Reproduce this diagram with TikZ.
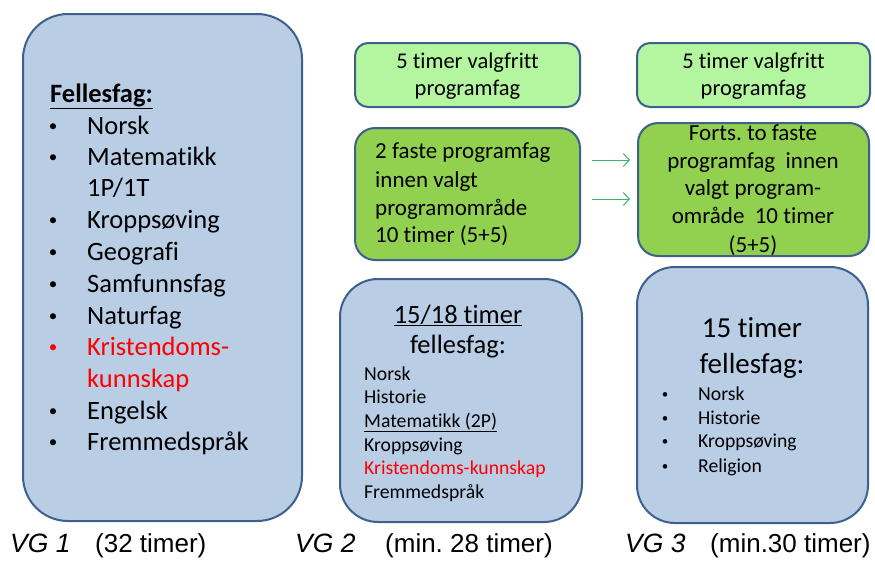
\documentclass[tikz,border=0pt]{standalone}
\usepackage{fontspec}
\setmainfont{Carlito}[Ligatures=NoCommon]
\newfontfamily\arialfont{Liberation Sans}
\usetikzlibrary{arrows.meta}
\definecolor{boxblue}{RGB}{185,205,229}
\definecolor{edgeblue}{RGB}{62,96,140}
\definecolor{palegreen}{RGB}{180,245,160}
\definecolor{midgreen}{RGB}{146,208,80}
\definecolor{arrowgreen}{RGB}{60,180,113}
\definecolor{textred}{RGB}{255,0,0}
\frenchspacing

\begin{document}
\begin{tikzpicture}[x=1pt,y=-1pt,
    bluebox/.style={draw=edgeblue,line width=2pt,fill=boxblue,inner sep=0pt},
    greenbox/.style={draw=edgeblue,line width=2pt,fill=midgreen,inner sep=0pt,rounded corners=20pt},
    palebox/.style={draw=edgeblue,line width=2pt,fill=palegreen,inner sep=0pt,rounded corners=13pt},
    item/.style={inner sep=0pt,anchor=base west,font=\fontsize{26.5}{31}\selectfont},
    small/.style={inner sep=0pt,anchor=base west,font=\fontsize{19.7}{24}\selectfont},
    dot/.style={inner sep=0pt,anchor=base,font=\fontsize{17}{20}\selectfont},
    smalldot/.style={inner sep=0pt,anchor=base,font=\fontsize{13}{16}\selectfont},
    ctr/.style={inner sep=0pt,anchor=base},
    vglabel/.style={inner sep=0pt,anchor=base west,font=\arialfont\itshape\fontsize{26.5}{31}\selectfont},
    hours/.style={inner sep=0pt,anchor=base west,font=\arialfont\fontsize{26}{30}\selectfont},
    >={Straight Barb[length=6pt,width=13pt]}]
      \useasboundingbox (0,0) rectangle (875,560);

      % VG 1
      \node (vg1) at (162.5,267.5) [bluebox,rounded corners=45pt,minimum width=279pt,minimum height=507pt] {};
      \node (ff) at (50,102) [item] {\bfseries\underline{Fellesfag:}};
      \node (d1) at (53,131) [dot] {•};
      \node (t1) at (87,134) [item] {Norsk};
      \node (d2) at (53,162) [dot] {•};
      \node (t2) at (87,165) [item] {Matematikk};
      \node (t2b) at (87,196) [item] {1P/1T};
      \node (d3) at (53,225) [dot] {•};
      \node (t3) at (87,228) [item] {Kroppsøving};
      \node (d4) at (53,257) [dot] {•};
      \node (t4) at (87,260) [item] {Geografi};
      \node (d5) at (53,289) [dot] {•};
      \node (t5) at (87,292) [item] {Samfunnsfag};
      \node (d6) at (53,321) [dot] {•};
      \node (t6) at (87,324) [item] {Naturfag};
      \node (d7) at (53,352) [dot,text=textred] {•};
      \node (t7) at (87,355) [item,text=textred] {Kristendoms-};
      \node (t7b) at (87,387) [item,text=textred] {kunnskap};
      \node (d8) at (53,416) [dot] {•};
      \node (t8) at (87,419) [item] {Engelsk};
      \node (d9) at (53,447) [dot] {•};
      \node (t9) at (87,450) [item] {Fremmedspråk};

      % VG 2
      \node (vg2top) at (467.5,75) [palebox,minimum width=225pt,minimum height=64pt] {};
      \node (p1) at (467.5,68) [ctr,font=\fontsize{22.5}{27}\selectfont] {5 timer valgfritt};
      \node (p2) at (467.5,95) [ctr,font=\fontsize{22.5}{27}\selectfont] {programfag};

      \node (vg2mid) at (467.5,194) [greenbox,minimum width=225pt,minimum height=132pt] {};
      \node (q1) at (375,158) [item,font=\fontsize{23}{28}\selectfont] {2 faste programfag};
      \node (q2) at (375,187) [item,font=\fontsize{23}{28}\selectfont] {innen valgt};
      \node (q3) at (375,215) [item,font=\fontsize{23}{28}\selectfont] {programområde};
      \node (q4) at (375,242) [item,font=\fontsize{23}{28}\selectfont] {10 timer (5+5)};

      \node (vg2bot) at (461,400.5) [bluebox,rounded corners=38pt,minimum width=242pt,minimum height=243pt] {};
      \node (h1) at (458,323) [ctr,font=\fontsize{26.5}{31}\selectfont] {\underline{15/18 timer}};
      \node (h2) at (458,353) [ctr,font=\fontsize{26.5}{31}\selectfont] {fellesfag:};
      \node (s1) at (364,380) [small] {Norsk};
      \node (s2) at (364,403) [small] {Historie};
      \node (s3) at (364,427) [small] {\underline{Matematikk\ (2P)}};
      \node (s4) at (364,451) [small] {Kroppsøving};
      \node (s5) at (364,474) [small,text=textred] {Kristendoms-kunnskap};
      \node (s6) at (364,498) [small] {Fremmedspråk};

      % VG 3
      \node (vg3top) at (753.5,75) [palebox,minimum width=233pt,minimum height=64pt] {};
      \node (r1) at (753.5,68) [ctr,font=\fontsize{22.5}{27}\selectfont] {5 timer valgfritt};
      \node (r2) at (753.5,95) [ctr,font=\fontsize{22.5}{27}\selectfont] {programfag};

      \node (vg3mid) at (753.5,189.5) [greenbox,minimum width=231pt,minimum height=133pt] {};
      \node (u1) at (753,140) [ctr,font=\fontsize{23}{28}\selectfont] {Forts. to faste};
      \node (u2) at (753,168) [ctr,font=\fontsize{23}{28}\selectfont] {programfag\ \ innen};
      \node (u3) at (753,195) [ctr,font=\fontsize{23}{28}\selectfont] {valgt program-};
      \node (u4) at (753,223) [ctr,font=\fontsize{23}{28}\selectfont] {område\ \ 10 timer};
      \node (u5) at (753,252) [ctr,font=\fontsize{23}{28}\selectfont] {(5+5)};

      \node (vg3bot) at (752.5,395) [bluebox,rounded corners=38pt,minimum width=231pt,minimum height=256pt] {};
      \node (k1) at (752,337) [ctr,font=\fontsize{29}{34}\selectfont] {15 timer};
      \node (k2) at (752,373) [ctr,font=\fontsize{29}{34}\selectfont] {fellesfag:};
      \node (e1) at (665,398) [smalldot] {•};
      \node (f1) at (698,400) [small] {Norsk};
      \node (e2) at (665,422) [smalldot] {•};
      \node (f2) at (698,424) [small] {Historie};
      \node (e3) at (665,445) [smalldot] {•};
      \node (f3) at (698,447) [small] {Kroppsøving};
      \node (e4) at (665,470) [smalldot] {•};
      \node (f4) at (698,472) [small] {Religion};

      % arrows VG 2 -> VG 3
      \coordinate (a1) at (592,160);
      \coordinate (b1) at (630,160);
      \coordinate (a2) at (592,199);
      \coordinate (b2) at (630,199);
      \draw[->,arrowgreen,line width=1pt] (a1) -- (b1);
      \draw[->,arrowgreen,line width=1pt] (a2) -- (b2);

      % labels
      \node (l1) at (10,552) [vglabel] {VG 1};
      \node (m1) at (95,552) [hours] {(32 timer)};
      \node (l2) at (295,552) [vglabel] {VG 2};
      \node (m2) at (385,552) [hours] {(min. 28 timer)};
      \node (l3) at (625,552) [vglabel] {VG 3};
      \node (m3) at (710,552) [hours] {(min.30 timer)};

    \end{tikzpicture}
\end{document}
